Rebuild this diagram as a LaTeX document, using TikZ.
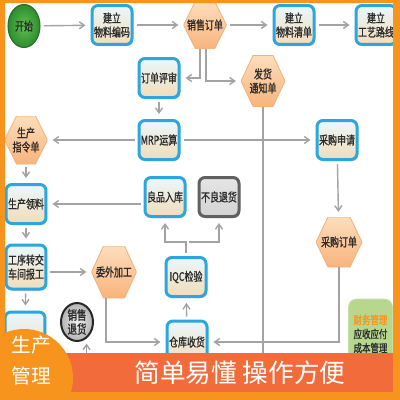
\documentclass[tikz,border=0pt]{standalone}
\usepackage{fontspec}
\setmainfont{Noto Sans CJK SC}
\newfontfamily\bxfont[FakeStretch=0.75, FakeBold=1.2]{Noto Sans CJK SC}
\usepackage{tikz}
\usetikzlibrary{arrows.meta,shapes.geometric,shadows}
\definecolor{frameor}{HTML}{F7941D}
\definecolor{bannerred}{HTML}{F26B3B}
\definecolor{boxline}{HTML}{2BA6DE}
\definecolor{boxtop}{HTML}{EAF8FD}
\definecolor{boxbot}{HTML}{F2DCB8}
\definecolor{hexline}{HTML}{F2B27A}
\definecolor{hextop}{HTML}{FDDDBC}
\definecolor{hexbot}{HTML}{F8B47C}
\definecolor{linegray}{HTML}{A3A3A3}
\definecolor{ink}{HTML}{2B2B2B}
\definecolor{fingreen}{HTML}{B7D68E}
\definecolor{finline}{HTML}{C9E0A5}
\definecolor{startin}{HTML}{5CC450}
\definecolor{startout}{HTML}{2E8B2E}
\newcommand{\bxtext}{\bxfont\fontsize{17pt}{20pt}\selectfont}
\tikzset{
  blk/.style={draw=boxline, line width=.15cm, rounded corners=.3cm, top color=boxtop, bottom color=boxbot,
    align=center, text=ink, font=\bxtext, inner sep=1pt, minimum width=2cm, minimum height=1.95cm,
    drop shadow={shadow xshift=.06cm, shadow yshift=-.08cm, opacity=.45}},
  blkg/.style={blk, draw=gray!75!black, top color=gray!20, bottom color=gray!35},
  hexa/.style={fill=white, inner sep=0pt, align=center, text=ink, font=\bxtext, minimum width=2.2cm, minimum height=2.45cm,
    path picture={\draw[draw=hexline, line width=1.2pt, top color=hextop, bottom color=hexbot]
      ([xshift=.6cm]path picture bounding box.north west) -- ([xshift=-.6cm]path picture bounding box.north east)
      -- (path picture bounding box.east) -- ([xshift=-.6cm]path picture bounding box.south east)
      -- ([xshift=.6cm]path picture bounding box.south west) -- (path picture bounding box.west) -- cycle;}},
  ar/.style={-{Straight Barb[length=.25cm, width=.35cm]}, line width=.07cm, draw=linegray, shorten >=.25cm, shorten <=.15cm},
  fin/.style={fill=fingreen, draw=finline, line width=1pt, rounded corners=.4cm, align=center, text=ink,
    font=\bxfont\fontsize{16pt}{20pt}\selectfont, minimum width=2.2cm, minimum height=3.5cm},
}

\begin{document}
\begin{tikzpicture}[x=.05cm, y=-.05cm]
  \useasboundingbox (0,0) rectangle (400,400);
  \fill[frameor] (0,0) rectangle (400,400);
  \fill[white] (5,3) rectangle (393,392);

  % flow nodes
  \node[ellipse, draw=startout!80!black, line width=1.5pt, inner color=startin, outer color=startout,
    minimum width=1.6cm, minimum height=2.15cm, text=ink, font=\bxtext] (ks) at (24,26) {开始};
  \node[blk] (bm) at (112,25) {建立\\物料编码};
  \node[hexa, minimum width=2.15cm, minimum height=2.4cm] (xd) at (205,25) {销售订单};
  \node[blk] (qd) at (294,25) {建立\\物料清单};
  \node[blk] (lx) at (376,25) {建立\\工艺路线};
  \node[blk] (ps) at (159,78) {订单评审};
  \node[hexa, minimum height=2.55cm] (fh) at (263,81) {发货\\通知单};
  \node[blk] (mrp) at (159,140) {MRP运算};
  \node[hexa, minimum width=2.15cm, minimum height=2.4cm] (zl) at (26,140) {生产\\指令单};
  \node[blk] (sq) at (337,140) {采购申请};
  \node[blk] (ll) at (26,204) {生产领料};
  \node[blk] (rk) at (165,197) {良品入库};
  \node[blkg] (th) at (219,197) {不良退货};
  \node[hexa, minimum width=2.3cm, minimum height=2.5cm] (cd) at (339,242) {采购订单};
  \node[blk, minimum height=2.2cm] (bg) at (26,267) {工序转交\\车间报工};
  \node[hexa, minimum width=2.25cm, minimum height=2.6cm] (ww) at (114,272) {委外加工};
  \node[blk] (iqc) at (186,277) {IQC检验};
  \node[blk, minimum height=2.1cm] (sh) at (187,342) {仓库收货};
  \node[blk, minimum height=2.2cm] (nx) at (25,334) {};
  \node[ellipse, draw=gray!30!black, line width=.1cm, inner color=gray!12, outer color=gray!60,
    minimum width=1.6cm, minimum height=1.9cm, inner sep=0pt, text=ink, font=\bxfont\fontsize{18pt}{20pt}\selectfont,
    align=center] (xt) at (77,322) {销售\\退货};
  \node[fin] (cw) at (370.5,334) {{\color{frameor}财务管理}\\应收应付\\成本管理};

  % connectors
  \draw[ar] (ks) -- (bm);
  \draw[ar] (bm) -- (xd);
  \draw[ar] (xd) -- (qd);
  \draw[ar] (qd) -- (lx);
  \draw[ar, shorten <=0pt] ([xshift=-.25cm]xd.south) |- (ps);
  \draw[ar, shorten <=0pt] ([xshift=.05cm]xd.south) |- (fh);
  \draw[ar] (ps) -- (mrp);
  \draw[ar] (mrp) -- (zl);
  \draw[ar] (mrp) -- (sq);
  \draw[ar] (zl) -- (ll);
  \draw[ar] (rk.west |- ll) -- (ll);
  \draw[ar] (iqc.north) -- ++(0,-14) coordinate (fk) -| (rk);
  \draw[ar] (fk) -| (th);
  \draw[ar] (sh) -- (iqc);
  \draw[ar] (sq) -- (cd);
  \draw[ar, shorten <=0pt] (cd) |- (sh);
  \draw[ar] (ll) -- (bg);
  \draw[ar] (bg.east |- ww) -- (ww);
  \draw[ar, shorten <=0pt] ([xshift=-.4cm]ww.south) |- (sh);
  \draw[ar] (bg) -- (nx);
  \draw[ar, shorten <=0pt] (fh.south) -- ++(0,263) -| (xt.-60);

  % banner
  \fill[bannerred] (5,353) rectangle (393,392);
  \fill[frameor] (24,378) circle[radius=2.45cm];
  \node[text=white, font=\fontsize{28pt}{44pt}\selectfont, align=center] (sc) at (31,360.5) {生产\\管理};
  \node[text=white, font=\fontsize{36.5pt}{40pt}\selectfont] (kh) at (240,373) {简单易懂 操作方便};
  \fill[frameor] (0,0) rectangle (400,3) (0,0) rectangle (5,400) (393,0) rectangle (400,400) (0,392) rectangle (400,400);
\end{tikzpicture}
\end{document}
